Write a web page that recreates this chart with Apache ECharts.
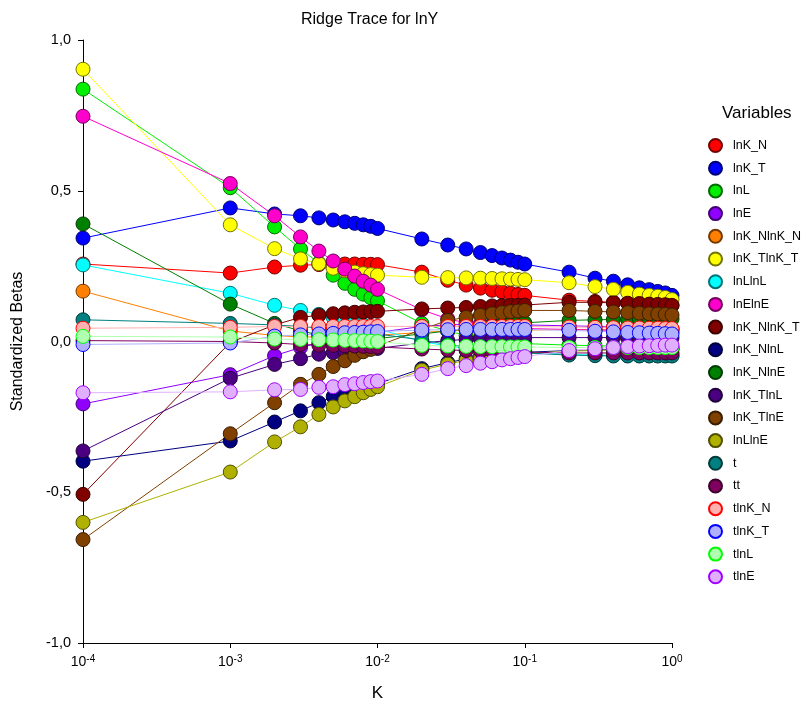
<!DOCTYPE html>
<html>
<head>
<meta charset="utf-8">
<script src="https://cdn.jsdelivr.net/npm/echarts@6/dist/echarts.min.js"></script>
<style>
html,body{margin:0;padding:0;background:#fff;}
#c{width:804px;height:708px;}
</style>
</head>
<body>
<div id="c"></div>
<script>
// ---- data ----
const K = [0.0001, 0.001, 0.002, 0.003, 0.004, 0.005, 0.006, 0.007, 0.008, 0.009, 0.01,
  0.02, 0.03, 0.04, 0.05, 0.06, 0.07, 0.08, 0.09, 0.1,
  0.2, 0.3, 0.4, 0.5, 0.6, 0.7, 0.8, 0.9, 1.0];
const seriesNames = ["lnK_N","lnK_T","lnL","lnE","lnK_NlnK_N","lnK_TlnK_T","lnLlnL","lnElnE",
  "lnK_NlnK_T","lnK_NlnL","lnK_NlnE","lnK_TlnL","lnK_TlnE","lnLlnE","t","tt",
  "tlnK_N","tlnK_T","tlnL","tlnE"];
const yTicks = [-1, -0.5, 0, 0.5, 1];
const xTicks = [0.0001, 0.001, 0.01, 0.1, 1];

const lnK_N = [0.257,0.227,0.247,0.253,0.255,0.257,0.257,0.257,0.256,0.256,0.255,0.230,0.203,0.187,0.177,0.170,0.165,0.160,0.156,0.153,0.137,0.133,0.130,0.128,0.126,0.124,0.123,0.122,0.120];
const lnK_T = [0.343,0.443,0.423,0.417,0.410,0.403,0.397,0.392,0.387,0.382,0.375,0.340,0.320,0.307,0.295,0.285,0.277,0.270,0.263,0.257,0.230,0.210,0.200,0.188,0.178,0.172,0.166,0.161,0.153];
const lnL = [0.837,0.510,0.380,0.307,0.260,0.220,0.193,0.173,0.157,0.145,0.135,0.060,0.035,0.020,0.010,0.004,0.000,-0.003,-0.005,-0.007,-0.012,-0.014,-0.015,-0.016,-0.017,-0.018,-0.018,-0.019,-0.020];
const lnE = [-0.207,-0.110,-0.047,-0.020,-0.005,0.005,0.012,0.018,0.022,0.026,0.030,0.050,0.055,0.057,0.057,0.057,0.056,0.056,0.055,0.055,0.052,0.050,0.048,0.047,0.046,0.045,0.044,0.043,0.042];
const lnK_NlnK_N = [0.167,0.035,0.020,0.015,0.015,0.016,0.017,0.018,0.020,0.020,0.021,0.030,0.035,0.037,0.038,0.038,0.038,0.038,0.038,0.038,0.040,0.040,0.040,0.040,0.040,0.040,0.040,0.040,0.040];
const lnK_TlnK_T = [0.903,0.387,0.308,0.274,0.258,0.243,0.235,0.230,0.225,0.222,0.220,0.213,0.212,0.211,0.210,0.209,0.208,0.207,0.206,0.205,0.195,0.182,0.173,0.163,0.157,0.153,0.150,0.146,0.139];
const lnLlnL = [0.254,0.160,0.120,0.103,0.090,0.080,0.070,0.062,0.055,0.048,0.042,0.000,-0.015,-0.022,-0.027,-0.030,-0.032,-0.034,-0.036,-0.037,-0.043,-0.045,-0.046,-0.047,-0.047,-0.047,-0.047,-0.047,-0.047];
const lnElnE = [0.747,0.524,0.417,0.347,0.300,0.267,0.240,0.217,0.200,0.187,0.173,0.105,0.075,0.062,0.055,0.050,0.047,0.045,0.044,0.043,0.040,0.038,0.037,0.036,0.035,0.034,0.033,0.033,0.032];
const lnK_NlnK_T = [-0.507,-0.003,0.055,0.080,0.087,0.092,0.095,0.097,0.098,0.099,0.100,0.108,0.111,0.113,0.116,0.118,0.119,0.120,0.120,0.121,0.130,0.130,0.128,0.127,0.126,0.124,0.123,0.122,0.120];
const lnK_NlnL = [-0.397,-0.330,-0.267,-0.230,-0.203,-0.183,-0.170,-0.160,-0.152,-0.146,-0.140,-0.090,-0.070,-0.058,-0.050,-0.045,-0.042,-0.040,-0.038,-0.036,-0.030,-0.028,-0.027,-0.026,-0.025,-0.025,-0.024,-0.024,-0.024];
const lnK_NlnE = [0.390,0.124,0.060,0.035,0.022,0.015,0.012,0.010,0.010,0.010,0.010,0.025,0.035,0.042,0.048,0.052,0.055,0.058,0.060,0.062,0.070,0.072,0.073,0.074,0.075,0.075,0.075,0.075,0.075];
const lnK_TlnL = [-0.363,-0.122,-0.076,-0.057,-0.042,-0.037,-0.033,-0.030,-0.027,-0.025,-0.023,-0.005,0.003,0.007,0.009,0.010,0.011,0.012,0.012,0.013,0.013,0.013,0.013,0.012,0.012,0.012,0.012,0.012,0.012];
const lnK_TlnE = [-0.657,-0.306,-0.203,-0.142,-0.109,-0.083,-0.064,-0.046,-0.034,-0.026,-0.015,0.040,0.070,0.080,0.087,0.092,0.096,0.099,0.101,0.103,0.103,0.100,0.098,0.096,0.094,0.092,0.091,0.090,0.088];
const lnLlnE = [-0.600,-0.433,-0.333,-0.283,-0.242,-0.217,-0.197,-0.183,-0.170,-0.159,-0.150,-0.095,-0.075,-0.063,-0.055,-0.050,-0.047,-0.044,-0.042,-0.040,-0.032,-0.030,-0.028,-0.027,-0.026,-0.025,-0.025,-0.024,-0.024];
const t = [0.072,0.060,0.055,0.050,0.045,0.040,0.037,0.034,0.031,0.028,0.025,0.005,-0.010,-0.018,-0.024,-0.028,-0.031,-0.034,-0.036,-0.038,-0.045,-0.047,-0.048,-0.048,-0.048,-0.048,-0.048,-0.048,-0.048];
const tt = [0.003,0.000,-0.005,-0.010,-0.012,-0.013,-0.014,-0.015,-0.016,-0.017,-0.018,-0.025,-0.028,-0.030,-0.031,-0.032,-0.033,-0.034,-0.034,-0.035,-0.038,-0.038,-0.038,-0.038,-0.038,-0.038,-0.038,-0.038,-0.038];
const tlnK_N = [0.044,0.047,0.050,0.050,0.050,0.050,0.050,0.050,0.050,0.050,0.050,0.050,0.050,0.050,0.050,0.050,0.050,0.050,0.050,0.050,0.048,0.047,0.046,0.045,0.045,0.044,0.044,0.043,0.043];
const tlnK_T = [-0.010,-0.005,0.018,0.022,0.025,0.027,0.029,0.030,0.031,0.032,0.033,0.038,0.039,0.040,0.040,0.040,0.040,0.040,0.040,0.040,0.037,0.034,0.032,0.030,0.029,0.028,0.027,0.026,0.025];
const tlnL = [0.017,0.015,0.008,0.007,0.006,0.005,0.004,0.003,0.002,0.001,0.000,-0.013,-0.015,-0.016,-0.017,-0.017,-0.017,-0.018,-0.018,-0.018,-0.020,-0.020,-0.020,-0.020,-0.020,-0.020,-0.020,-0.020,-0.020];
const tlnE = [-0.170,-0.167,-0.160,-0.159,-0.152,-0.150,-0.143,-0.140,-0.136,-0.133,-0.131,-0.109,-0.090,-0.080,-0.072,-0.067,-0.061,-0.057,-0.053,-0.050,-0.030,-0.024,-0.020,-0.017,-0.015,-0.014,-0.013,-0.012,-0.012];

const values = [lnK_N,lnK_T,lnL,lnE,lnK_NlnK_N,lnK_TlnK_T,lnLlnL,lnElnE,lnK_NlnK_T,lnK_NlnL,lnK_NlnE,lnK_TlnL,lnK_TlnE,lnLlnE,t,tt,tlnK_N,tlnK_T,tlnL,tlnE];

// ---- styles ----
const fills = ["#FF0000","#0000FF","#00EE00","#9000FF","#FF8000","#FFFF00","#00FFFF","#FF00CC",
  "#800000","#000080","#008000","#4B0082","#804000","#B0B000","#008080","#800060",
  "#FFB0B0","#B0B0FF","#B0FFB0","#E0B0FF"];
const borders = [null,null,null,null,null,null,null,null,null,null,null,null,null,null,null,null,
  "#FF0000","#0000FF","#00FF00","#A000FF"];

function darken(hex, f) {
  const n = parseInt(hex.slice(1), 16);
  const r = Math.round(((n >> 16) & 255) * f), g = Math.round(((n >> 8) & 255) * f), b = Math.round((n & 255) * f);
  return 'rgb(' + r + ',' + g + ',' + b + ')';
}

const series = seriesNames.map((name, i) => ({
  name: name,
  type: 'line',
  data: K.map((k, j) => [k, values[i][j]]),
  symbol: 'circle',
  symbolSize: 14,
  lineStyle: { width: 1, color: fills[i] },
  itemStyle: { color: fills[i], borderColor: borders[i] || darken(fills[i], 0.45), borderWidth: 1 },
  emphasis: { disabled: true },
  animation: false,
  z: 2
}));

const chart = echarts.init(document.getElementById('c'), null, { renderer: 'canvas' });
chart.setOption({
  backgroundColor: '#fff',
  animation: false,
  textStyle: { fontFamily: 'Liberation Sans, Arial, sans-serif' },
  title: [
    { text: 'Ridge Trace for lnY', left: 296, top: 7, textStyle: { fontSize: 16, fontWeight: 'normal', color: '#000', fontFamily: 'Liberation Sans' } },
    { text: 'Variables', left: 717, top: 100, textStyle: { fontSize: 17, fontWeight: 'normal', color: '#000', fontFamily: 'Liberation Sans' } }
  ],
  legend: {
    orient: 'vertical',
    left: 703,
    top: 133,
    itemWidth: 13,
    itemHeight: 13,
    itemGap: 7.7,
    icon: 'circle',
    selectedMode: false,
    data: seriesNames,
    textStyle: { fontSize: 12.5, color: '#000', fontFamily: 'Liberation Sans', padding: [0, 0, 0, 6] }
  },
  grid: { left: 83, right: 132, top: 40, bottom: 65, containLabel: false },
  xAxis: {
    type: 'log',
    logBase: 10,
    min: 0.0001,
    max: 1,
    name: 'K',
    nameLocation: 'middle',
    nameGap: 42,
    nameTextStyle: { fontSize: 17, color: '#000', fontFamily: 'Liberation Sans' },
    axisLine: { onZero: false, lineStyle: { color: '#000', width: 1 } },
    axisTick: { show: true, length: 5, lineStyle: { color: '#000' } },
    splitLine: { show: false },
    minorTick: { show: false },
    axisLabel: {
      margin: 11,
      color: '#000',
      formatter: function (v) {
        const e = Math.round(Math.log10(v));
        return '{b|10}{s|' + e + '}';
      },
      rich: {
        b: { fontSize: 14, color: '#000', fontFamily: 'Liberation Sans' },
        s: { fontSize: 10, color: '#000', fontFamily: 'Liberation Sans', padding: [0, 0, 7, 0] }
      }
    }
  },
  yAxis: {
    type: 'value',
    min: -1,
    max: 1,
    interval: 0.5,
    name: 'Standardized Betas',
    nameLocation: 'middle',
    nameGap: 57,
    nameTextStyle: { fontSize: 16, color: '#000', fontFamily: 'Liberation Sans' },
    axisLine: { show: true, onZero: false, lineStyle: { color: '#000', width: 1 } },
    axisTick: { show: true, length: 5, lineStyle: { color: '#000' } },
    splitLine: { show: false },
    axisLabel: {
      margin: 12,
      fontSize: 14.5,
      color: '#000',
      fontFamily: 'Liberation Sans',
      formatter: function (v) { return v.toFixed(1).replace('.', ','); }
    }
  },
  series: series
});
</script>
</body>
</html>
